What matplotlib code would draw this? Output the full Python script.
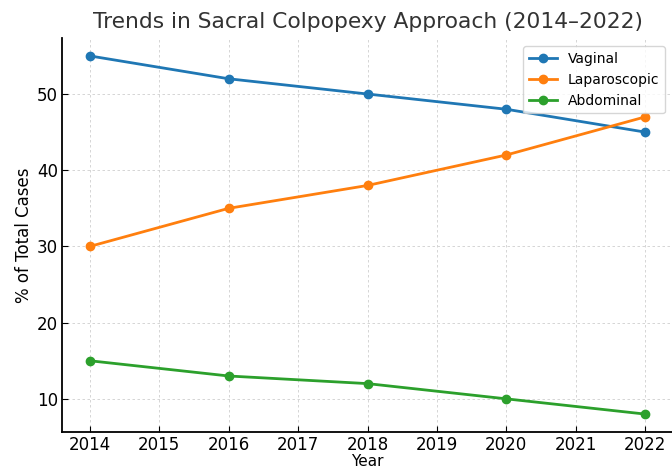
import matplotlib
matplotlib.use("Agg")
import matplotlib.pyplot as plt

years = [2014, 2016, 2018, 2020, 2022]
vaginal = [55, 52, 50, 48, 45]
laparoscopic = [30, 35, 38, 42, 47]
abdominal = [15, 13, 12, 10, 8]

fig = plt.figure(figsize=(6.72, 4.70), dpi=100)
ax = fig.add_axes([62 / 672, 38 / 470, 611 / 672, 394 / 470])

ax.plot(years, vaginal, marker="o", color="#1f77b4", linewidth=2, markersize=6, label="Vaginal")
ax.plot(years, laparoscopic, marker="o", color="#ff7f0e", linewidth=2, markersize=6, label="Laparoscopic")
ax.plot(years, abdominal, marker="o", color="#2ca02c", linewidth=2, markersize=6, label="Abdominal")

ax.set_xticks(range(2014, 2023))
ax.set_yticks([10, 20, 30, 40, 50])
ax.tick_params(labelsize=12, direction="in", length=4, pad=3)
ax.grid(True, linestyle=(0, (3, 3)), color="#cfcfcf", linewidth=0.6)
ax.spines["top"].set_visible(False)
ax.spines["right"].set_visible(False)
ax.spines["left"].set_linewidth(1.3)
ax.spines["bottom"].set_linewidth(1.3)

ax.set_title("Trends in Sacral Colpopexy Approach (2014\u20132022)", fontsize=15.7, color="#333333", pad=7)
ax.set_xlabel("Year", fontsize=11, labelpad=0)
ax.set_ylabel("% of Total Cases", fontsize=12, labelpad=3)
ax.legend(loc="upper right", fontsize=10, borderaxespad=0.6)

fig.savefig("out.png", dpi=100)
